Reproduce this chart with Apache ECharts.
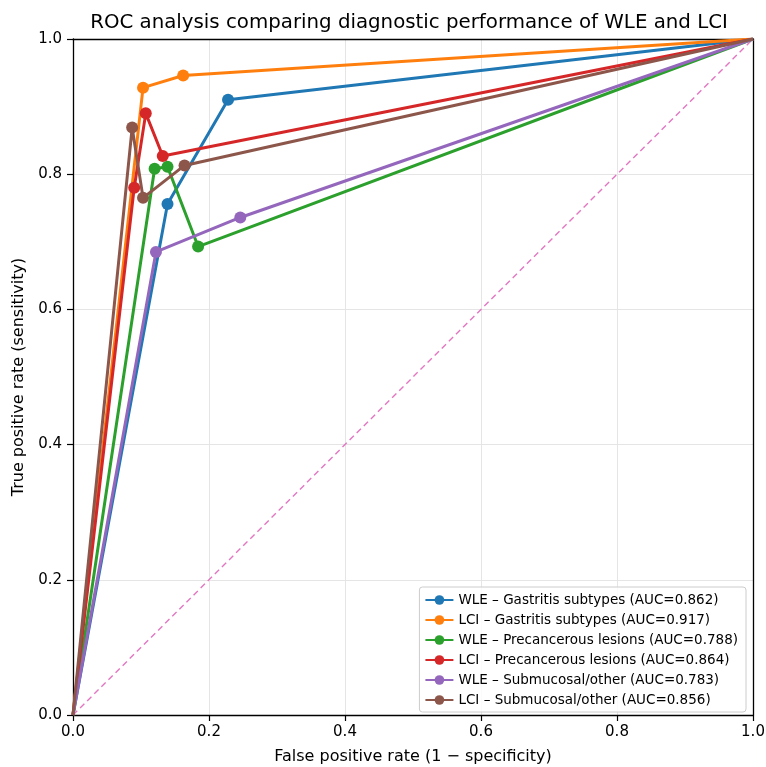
<!DOCTYPE html>
<html><head><meta charset="utf-8">
<script src="https://cdn.jsdelivr.net/npm/echarts@6/dist/echarts.min.js"></script>
<style>html,body{margin:0;padding:0;background:#fff}#c{width:766px;height:767px}</style>
</head><body><div id="c"></div>
<script>
var seriesNames = [
  'WLE – Gastritis subtypes (AUC=0.862)',
  'LCI – Gastritis subtypes (AUC=0.917)',
  'WLE – Precancerous lesions (AUC=0.788)',
  'LCI – Precancerous lesions (AUC=0.864)',
  'WLE – Submucosal/other (AUC=0.783)',
  'LCI – Submucosal/other (AUC=0.856)'
];
var fprWleGastritis = [0, 0.139, 0.228, 1];
var tprWleGastritis = [0, 0.756, 0.910, 1];
var fprLciGastritis = [0, 0.103, 0.162, 1];
var tprLciGastritis = [0, 0.928, 0.946, 1];
var fprWlePrecancer = [0, 0.120, 0.139, 0.184, 1];
var tprWlePrecancer = [0, 0.808, 0.811, 0.693, 1];
var fprLciPrecancer = [0, 0.090, 0.107, 0.132, 1];
var tprLciPrecancer = [0, 0.780, 0.890, 0.827, 1];
var fprWleSubmucosal = [0, 0.122, 0.246, 1];
var tprWleSubmucosal = [0, 0.685, 0.736, 1];
var fprLciSubmucosal = [0, 0.087, 0.103, 0.164, 1];
var tprLciSubmucosal = [0, 0.869, 0.765, 0.813, 1];
var diagX = [0, 1];
var diagY = [0, 1];

var colors = ['#1f77b4', '#ff7f0e', '#2ca02c', '#d62728', '#9467bd', '#8c564b'];
var fprs = [fprWleGastritis, fprLciGastritis, fprWlePrecancer, fprLciPrecancer, fprWleSubmucosal, fprLciSubmucosal];
var tprs = [tprWleGastritis, tprLciGastritis, tprWlePrecancer, tprLciPrecancer, tprWleSubmucosal, tprLciSubmucosal];

var FONT = 'DejaVu Sans';
var series = [{
  type: 'line', name: 'diag', data: diagX.map(function (x, i) { return [x, diagY[i]]; }),
  showSymbol: false, symbol: 'none', silent: true,
  lineStyle: { color: '#e377c2', width: 1.4, type: [6, 4] }, z: 1
}];
for (var s = 0; s < 6; s++) {
  var n = fprs[s].length;
  series.push({
    type: 'line', name: seriesNames[s], color: colors[s],
    symbol: 'circle', symbolSize: 12,
    data: fprs[s].map(function (x, i) {
      var d = { value: [x, tprs[s][i]] };
      if (i === 0 || i === n - 1) d.symbol = 'none';
      return d;
    }),
    lineStyle: { width: 3, color: colors[s] },
    itemStyle: { color: colors[s] },
    z: 2 + s
  });
}
function fmt(v) { return v.toFixed(1); }
var chart = echarts.init(document.getElementById('c'));
chart.setOption({
  animation: false,
  backgroundColor: '#fff',
  title: {
    text: 'ROC analysis comparing diagnostic performance of WLE and LCI',
    left: 404, top: 8, textAlign: 'center',
    textStyle: { fontFamily: FONT, fontWeight: 'normal', fontSize: 19.8, color: '#000' }
  },
  legend: {
    data: seriesNames, orient: 'vertical', right: 20, bottom: 55,
    itemWidth: 28, itemHeight: 12, itemGap: 4,
    backgroundColor: 'rgba(255,255,255,0.85)', borderColor: '#cccccc', borderWidth: 1, borderRadius: 3,
    padding: [5, 8, 4, 5],
    textStyle: { fontFamily: FONT, fontSize: 13.5, color: '#000', lineHeight: 16 }
  },
  grid: { left: 73, right: 13, top: 39, bottom: 52, outerBoundsMode: 'none', containLabel: false },
  xAxis: [{
    type: 'value', min: 0, max: 1, interval: 0.2,
    name: 'False positive rate (1 − specificity)', nameLocation: 'middle', nameGap: 34,
    nameTextStyle: { fontFamily: FONT, fontSize: 16, color: '#000' },
    axisLine: { show: true, onZero: false, lineStyle: { color: '#000', width: 1.3 } },
    axisTick: { show: true, length: 6, lineStyle: { color: '#000', width: 1.2 } },
    axisLabel: { fontFamily: FONT, fontSize: 15, color: '#000', margin: 10, formatter: fmt },
    splitLine: { show: true, lineStyle: { color: '#e5e5e5', width: 1 } }
  }, {
    type: 'value', min: 0, max: 1, position: 'top',
    axisLine: { show: true, onZero: false, lineStyle: { color: '#000', width: 1.3 } },
    axisTick: { show: false }, axisLabel: { show: false }, splitLine: { show: false }
  }],
  yAxis: [{
    type: 'value', min: 0, max: 1, interval: 0.2,
    name: 'True positive rate (sensitivity)', nameLocation: 'middle', nameGap: 46, nameRotate: 90,
    nameTextStyle: { fontFamily: FONT, fontSize: 16, color: '#000' },
    axisLine: { show: true, onZero: false, lineStyle: { color: '#000', width: 1.3 } },
    axisTick: { show: true, length: 6, lineStyle: { color: '#000', width: 1.2 } },
    axisLabel: { fontFamily: FONT, fontSize: 15, color: '#000', margin: 11, formatter: fmt },
    splitLine: { show: true, lineStyle: { color: '#e5e5e5', width: 1 } }
  }, {
    type: 'value', min: 0, max: 1, position: 'right',
    axisLine: { show: true, onZero: false, lineStyle: { color: '#000', width: 1.3 } },
    axisTick: { show: false }, axisLabel: { show: false }, splitLine: { show: false }
  }],
  series: series
});
</script></body></html>
